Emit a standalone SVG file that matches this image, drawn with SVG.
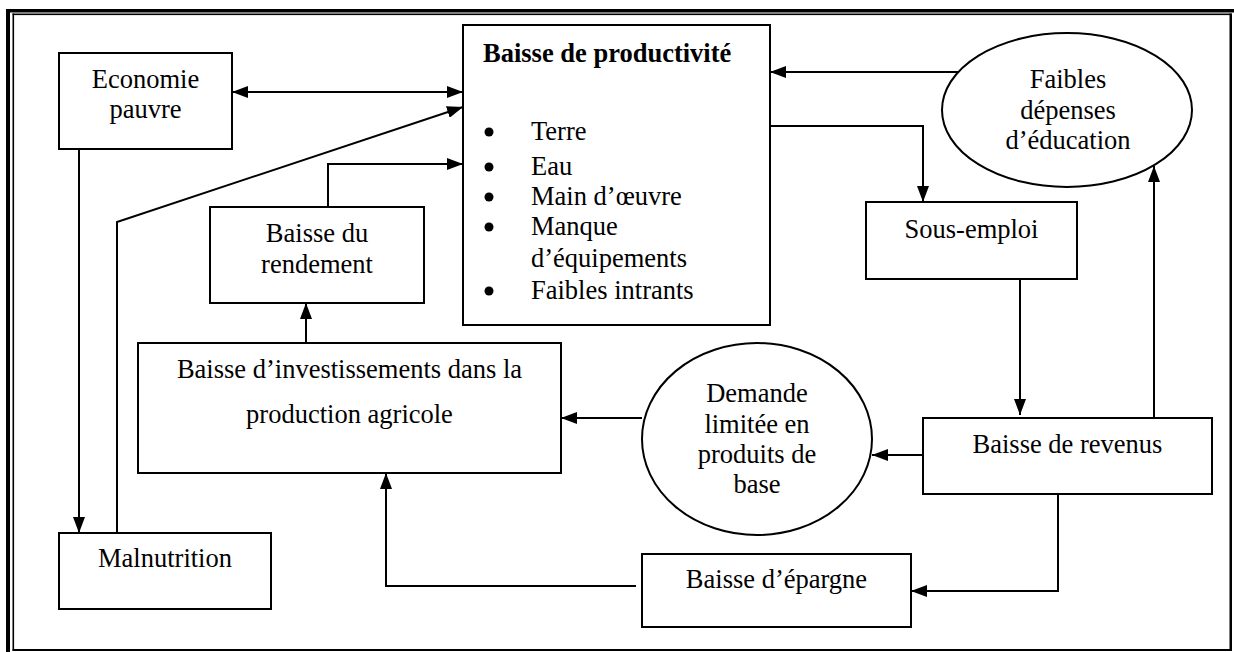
<svg xmlns="http://www.w3.org/2000/svg" width="1234" height="652" viewBox="0 0 1234 652">
  <style>
    .box { fill: #fff; stroke: #000; stroke-width: 2; }
    .oval { fill: #fff; stroke: #000; stroke-width: 2; }
    .txt { font-family: "Liberation Serif", "Times New Roman", serif; font-size: 26.5px; fill: #000; }
    .mid { text-anchor: middle; }
    .bold { font-weight: bold; }
    .link { fill: none; stroke: #000; stroke-width: 2; }
    .frame { fill: #000; }
  </style>
  <defs>
    <marker id="arrow" markerUnits="userSpaceOnUse" markerWidth="16" markerHeight="12" refX="16" refY="6" orient="auto-start-reverse">
      <path d="M0,0 L16,6 L0,12 z" fill="#000"/>
    </marker>
  </defs>

  <rect width="1234" height="652" fill="#fff"/>

  <!-- page border: thick-thin on top and left, single line on right and bottom -->
  <g id="border">
    <rect class="frame" x="6" y="9" width="1228" height="3.5"/>
    <rect class="frame" x="6" y="9" width="4" height="643"/>
    <rect class="frame" x="12.5" y="13.5" width="1219" height="1.6"/>
    <rect class="frame" x="12.5" y="13.5" width="1.6" height="637"/>
    <rect class="frame" x="1229.5" y="13.5" width="2.5" height="637.5"/>
    <rect class="frame" x="12.5" y="649" width="1219.5" height="2"/>
  </g>

  <!-- connectors -->
  <g id="connectors">
    <line class="link" x1="232" y1="92" x2="463" y2="92" marker-start="url(#arrow)" marker-end="url(#arrow)"/>
    <polyline class="link" points="117,533 117,222 463,107" marker-end="url(#arrow)"/>
    <line class="link" x1="79" y1="149" x2="79" y2="533" marker-end="url(#arrow)"/>
    <polyline class="link" points="328,207 328,164 463,164" marker-end="url(#arrow)"/>
    <line class="link" x1="306" y1="343" x2="306" y2="303" marker-end="url(#arrow)"/>
    <line class="link" x1="961" y1="72" x2="770" y2="72" marker-end="url(#arrow)"/>
    <polyline class="link" points="770,126 923,126 923,202" marker-end="url(#arrow)"/>
    <line class="link" x1="1020" y1="279" x2="1020" y2="415" marker-end="url(#arrow)"/>
    <line class="link" x1="1154" y1="418" x2="1154" y2="166" marker-end="url(#arrow)"/>
    <line class="link" x1="923" y1="455" x2="872" y2="455" marker-end="url(#arrow)"/>
    <line class="link" x1="642" y1="418" x2="561" y2="418" marker-end="url(#arrow)"/>
    <polyline class="link" points="1058,494 1058,591 911,591" marker-end="url(#arrow)"/>
    <polyline class="link" points="636,586 386,586 386,473" marker-end="url(#arrow)"/>
  </g>

  <g id="economie-pauvre">
    <rect class="box" x="59" y="53" width="173" height="96"/>
    <text class="txt mid" x="145.5" y="88">Economie</text>
    <text class="txt mid" x="145.5" y="118">pauvre</text>
  </g>

  <g id="baisse-productivite">
    <rect class="box" x="463" y="25" width="307" height="300"/>
    <text class="txt bold" x="483" y="62">Baisse de productivité</text>
    <circle cx="489" cy="132" r="4.5"/>
    <text class="txt" x="531" y="140">Terre</text>
    <circle cx="489" cy="167" r="4.5"/>
    <text class="txt" x="531" y="175">Eau</text>
    <circle cx="489" cy="197" r="4.5"/>
    <text class="txt" x="531" y="205">Main d’œuvre</text>
    <circle cx="489" cy="227" r="4.5"/>
    <text class="txt" x="531" y="235">Manque</text>
    <text class="txt" x="531" y="267">d’équipements</text>
    <circle cx="489" cy="291" r="4.5"/>
    <text class="txt" x="531" y="299">Faibles intrants</text>
  </g>

  <g id="faibles-depenses">
    <ellipse class="oval" cx="1067" cy="110" rx="125" ry="77"/>
    <text class="txt mid" x="1068" y="88">Faibles</text>
    <text class="txt mid" x="1068" y="118.5">dépenses</text>
    <text class="txt mid" x="1068" y="149">d’éducation</text>
  </g>

  <g id="sous-emploi">
    <rect class="box" x="866" y="202" width="211" height="77"/>
    <text class="txt mid" x="971.5" y="238">Sous-emploi</text>
  </g>

  <g id="baisse-rendement">
    <rect class="box" x="210" y="207" width="214" height="96"/>
    <text class="txt mid" x="317" y="241.5">Baisse du</text>
    <text class="txt mid" x="317" y="273">rendement</text>
  </g>

  <g id="baisse-investissements">
    <rect class="box" x="138" y="343" width="423" height="130"/>
    <text class="txt mid" x="349.5" y="377.5">Baisse d’investissements dans la</text>
    <text class="txt mid" x="349.5" y="423">production agricole</text>
  </g>

  <g id="demande-limitee">
    <ellipse class="oval" cx="757" cy="439" rx="115" ry="96"/>
    <text class="txt mid" x="757" y="401.5">Demande</text>
    <text class="txt mid" x="757" y="432.5">limitée en</text>
    <text class="txt mid" x="757" y="463">produits de</text>
    <text class="txt mid" x="757" y="493">base</text>
  </g>

  <g id="baisse-revenus">
    <rect class="box" x="923" y="418" width="289" height="76"/>
    <text class="txt mid" x="1067.5" y="453">Baisse de revenus</text>
  </g>

  <g id="malnutrition">
    <rect class="box" x="59" y="533" width="212" height="76"/>
    <text class="txt mid" x="165" y="567">Malnutrition</text>
  </g>

  <g id="baisse-epargne">
    <rect class="box" x="642" y="554" width="269" height="73"/>
    <text class="txt mid" x="776.5" y="588">Baisse d’épargne</text>
  </g>
</svg>
